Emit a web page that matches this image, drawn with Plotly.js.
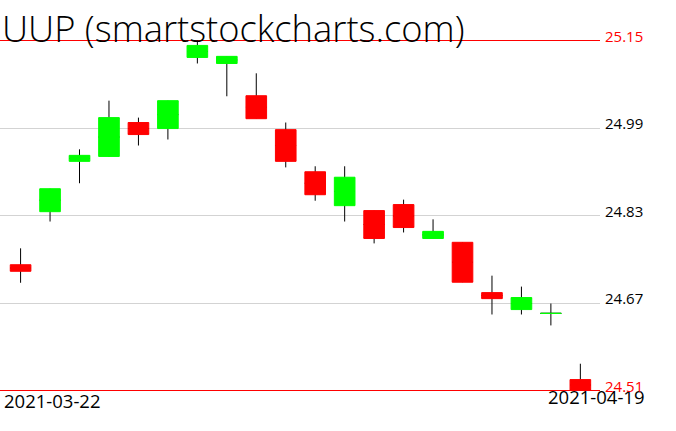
<!DOCTYPE html>
<html>
<head>
<meta charset="utf-8">
<script src="https://cdn.plot.ly/plotly-3.0.1.min.js"></script>
<style>
  html, body { margin: 0; padding: 0; background: #fff; }
  #chart { width: 676px; height: 431px; }
</style>
</head>
<body>
<div id="chart"></div>
<script>
// ---- data ----
const dates = ['2021-03-22','2021-03-23','2021-03-24','2021-03-25','2021-03-26',
               '2021-03-29','2021-03-30','2021-03-31','2021-04-01','2021-04-05',
               '2021-04-06','2021-04-07','2021-04-08','2021-04-09','2021-04-12',
               '2021-04-13','2021-04-14','2021-04-15','2021-04-16','2021-04-19'];
const openP  = [24.740, 24.837, 24.929, 24.938, 25.000, 24.989, 25.119, 25.108, 25.049, 24.987,
                24.910, 24.848, 24.839, 24.850, 24.788, 24.781, 24.689, 24.658, 24.651, 24.530];
const highP  = [24.770, 24.879, 24.951, 25.040, 25.009, 25.040, 25.150, 25.121, 25.090, 25.000,
                24.920, 24.920, 24.839, 24.859, 24.823, 24.781, 24.720, 24.700, 24.669, 24.559];
const lowP   = [24.707, 24.819, 24.889, 24.937, 24.958, 24.969, 25.108, 25.048, 25.007, 24.918,
                24.857, 24.819, 24.779, 24.799, 24.788, 24.708, 24.649, 24.649, 24.629, 24.510];
const closeP = [24.728, 24.879, 24.940, 25.009, 24.978, 25.040, 25.141, 25.121, 25.007, 24.929,
                24.868, 24.900, 24.788, 24.808, 24.801, 24.708, 24.678, 24.680, 24.651, 24.510];
const priceLabels = ['24.51', '24.67', '24.83', '24.99', '25.15'];
const titleText = 'UUP (smartstockcharts.com)';

// ---- derived ----
const idx = dates.map((d, i) => i);
const hi = Math.max(...highP);
const lo = Math.min(...lowP);
const levels = priceLabels.map((t, k) => lo + k * (hi - lo) / (priceLabels.length - 1));
const mid = openP.map((o, i) => (o + closeP[i]) / 2);
const bodyTop = openP.map((o, i) => Math.max(o, closeP[i]));
const bodyBot = openP.map((o, i) => Math.min(o, closeP[i]));
const isUp = openP.map((o, i) => closeP[i] >= o);

function pick(arr, up) { return arr.map((v, i) => (isUp[i] === up ? v : null)); }

const GREEN = '#00ff00', RED = '#ff0000';
const FONT = 'Open Sans, DejaVu Sans, sans-serif';

// wicks (black), drawn first so the bodies cover them
const wicks = {
  type: 'candlestick', x: idx,
  open: mid, close: mid, high: highP, low: lowP,
  increasing: { line: { color: '#000', width: 1 }, fillcolor: 'rgba(0,0,0,0)' },
  decreasing: { line: { color: '#000', width: 1 }, fillcolor: 'rgba(0,0,0,0)' },
  hoverinfo: 'skip', showlegend: false
};
function bodies(up, col) {
  return {
    type: 'candlestick', x: idx,
    open: pick(openP, up), close: pick(closeP, up),
    high: pick(bodyTop, up), low: pick(bodyBot, up),
    increasing: { line: { color: col, width: 1 }, fillcolor: col },
    decreasing: { line: { color: col, width: 1 }, fillcolor: col },
    hoverinfo: 'skip', showlegend: false
  };
}

const H = 431;
const annotations = [
  { text: titleText, xref: 'paper', yref: 'paper', x: 0, y: 1 - 28 / H,
    xanchor: 'left', yanchor: 'middle', xshift: 0, showarrow: false,
    font: { family: FONT, weight: 300, size: 36.3, color: '#000' } },
  { text: dates[0], xref: 'paper', yref: 'paper', x: 0, y: 1 - 400 / H,
    xanchor: 'left', yanchor: 'middle', xshift: 2, showarrow: false,
    font: { family: FONT, weight: 400, size: 18.5, color: '#000' } },
  { text: dates[dates.length - 1], xref: 'paper', yref: 'paper', x: 1, y: 1 - 396 / H,
    xanchor: 'right', yanchor: 'middle', xshift: 47, showarrow: false,
    font: { family: FONT, weight: 400, size: 18.5, color: '#000' } }
];
levels.forEach((v, k) => {
  const edge = (k === 0 || k === levels.length - 1);
  annotations.push({
    text: priceLabels[k], xref: 'paper', yref: 'y', x: 1, y: v,
    xanchor: 'left', yanchor: 'middle', xshift: 3, yshift: 5, showarrow: false,
    font: { family: FONT, weight: 400, size: 15, color: edge ? RED : '#000' }
  });
});

const shapes = [hi, lo].map(v => ({
  type: 'line', xref: 'paper', yref: 'y', x0: 0, x1: 1, y0: v, y1: v,
  line: { color: RED, width: 1 }, layer: 'below'
}));

const layout = {
  width: 676, height: H,
  margin: { l: 0, r: 76, t: 0, b: 0, pad: 0 },
  paper_bgcolor: '#fff', plot_bgcolor: '#fff',
  showlegend: false, hovermode: false,
  boxgap: 0.3, boxgroupgap: 0,
  xaxis: { range: [-0.699, 19.667], showgrid: false, zeroline: false, showticklabels: false,
           ticks: '', showline: false, rangeslider: { visible: false }, fixedrange: true },
  yaxis: { range: [24.43597, 25.22405], tickvals: levels.slice(1, -1), showgrid: true,
           gridcolor: '#d3d3d3', gridwidth: 1, zeroline: false, showticklabels: false,
           ticks: '', showline: false, fixedrange: true },
  annotations: annotations,
  shapes: shapes
};

Plotly.newPlot('chart', [wicks, bodies(true, GREEN), bodies(false, RED)], layout,
               { staticPlot: true, displayModeBar: false });
</script>
</body>
</html>
